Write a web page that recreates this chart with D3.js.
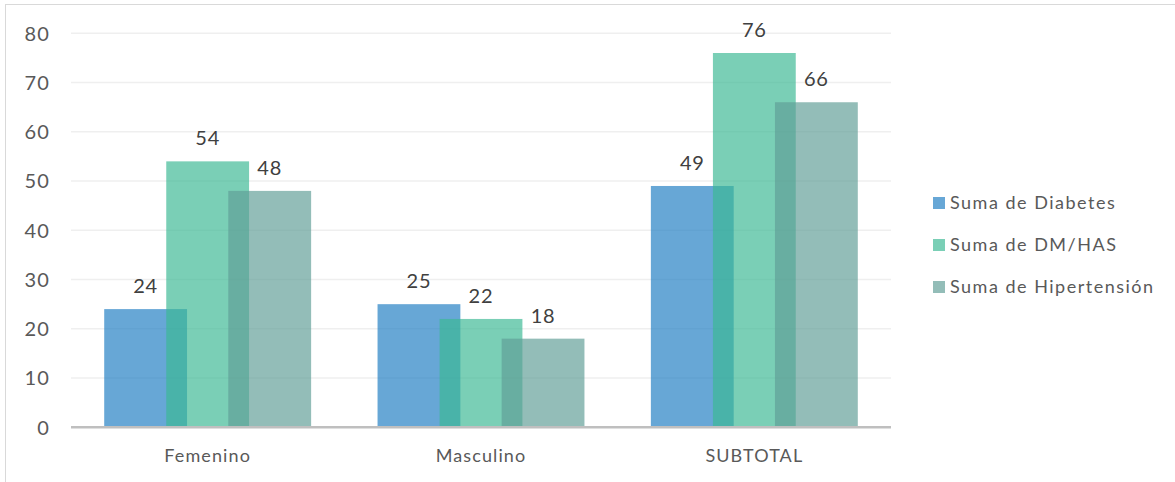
<!DOCTYPE html>
<html>
<head>
<meta charset="utf-8">
<script src="https://cdn.jsdelivr.net/npm/d3@7"></script>
<style>
  body { margin: 0; background: #fff; }
  text { font-family: Lato, "Open Sans", sans-serif; fill: #595959; }
</style>
</head>
<body>
<svg width="1175" height="482"></svg>
<script>
const categories = ["Femenino", "Masculino", "SUBTOTAL"];
const seriesNames = ["Suma de Diabetes", "Suma de DM/HAS", "Suma de Hipertensión"];
const diabetes = [24, 25, 49];
const dmHas = [54, 22, 76];
const hipertension = [48, 18, 66];
const yTicks = [0, 10, 20, 30, 40, 50, 60, 70, 80];

const seriesValues = [diabetes, dmHas, hipertension];
const colors = ["rgb(31,126,195)", "rgb(59,184,148)", "rgb(96,158,151)"];

const svg = d3.select("svg");

// chart frame
svg.append("rect")
  .attr("x", 5.5).attr("y", 4.5)
  .attr("width", 1180).attr("height", 490)
  .attr("fill", "none")
  .attr("stroke", "#d9d9d9");

const plotLeft = 71, plotRight = 891, plotTop = 33.3, plotBottom = 427.3;

const x = d3.scaleBand()
  .domain(categories)
  .range([plotLeft, plotRight]);

const y = d3.scaleLinear()
  .domain([0, 80])
  .range([plotBottom, plotTop]);

// gridlines
svg.append("g")
  .selectAll("line")
  .data(yTicks.slice(1))
  .enter().append("line")
  .attr("x1", plotLeft).attr("x2", plotRight)
  .attr("y1", d => y(d)).attr("y2", d => y(d))
  .attr("stroke", "#efefef")
  .attr("stroke-width", 1.5);

// y tick labels
svg.append("g")
  .selectAll("text")
  .data(yTicks)
  .enter().append("text")
  .attr("x", 50)
  .attr("y", d => y(d))
  .attr("dy", "0.36em")
  .attr("text-anchor", "end")
  .style("font-size", "20px")
  .style("letter-spacing", "1.2px")
  .text(d => d);

// bars: width and overlap like the original
const barW = x.bandwidth() * 0.303;
const step = x.bandwidth() * 0.227;
const groupW = barW + step * 2;

seriesValues.forEach((vals, s) => {
  const g = svg.append("g");
  g.selectAll("rect")
    .data(vals)
    .enter().append("rect")
    .attr("x", (d, i) => x(categories[i]) + (x.bandwidth() - groupW) / 2 + s * step)
    .attr("y", d => y(d))
    .attr("width", barW)
    .attr("height", d => y(0) - y(d))
    .attr("fill", colors[s])
    .attr("fill-opacity", 0.68);
});

// data labels
seriesValues.forEach((vals, s) => {
  svg.append("g")
    .selectAll("text")
    .data(vals)
    .enter().append("text")
    .attr("x", (d, i) => x(categories[i]) + (x.bandwidth() - groupW) / 2 + s * step + barW / 2)
    .attr("y", d => y(d) - 16)
    .attr("text-anchor", "middle")
    .style("font-size", "20px")
    .style("letter-spacing", "0.8px")
    .style("fill", "#404040")
    .text(d => d);
});

// baseline
svg.append("line")
  .attr("x1", plotLeft).attr("x2", plotRight)
  .attr("y1", y(0)).attr("y2", y(0))
  .attr("stroke", "#bfbfbf")
  .attr("stroke-width", 2.5);

// category labels
svg.append("g")
  .selectAll("text")
  .data(categories)
  .enter().append("text")
  .attr("x", d => x(d) + x.bandwidth() / 2)
  .attr("y", 462)
  .attr("text-anchor", "middle")
  .style("font-size", "18px")
  .style("letter-spacing", "1.1px")
  .text(d => d);

// legend
const legend = svg.append("g")
  .selectAll("g")
  .data(seriesNames)
  .enter().append("g")
  .attr("transform", (d, i) => "translate(933," + (203 + i * 42) + ")");

legend.append("rect")
  .attr("x", 0).attr("y", -6)
  .attr("width", 12).attr("height", 12)
  .attr("fill", (d, i) => colors[i])
  .attr("fill-opacity", 0.68);

legend.append("text")
  .attr("x", 17)
  .attr("dy", "0.36em")
  .style("font-size", "18px")
  .style("letter-spacing", "1.5px")
  .text(d => d);
</script>
</body>
</html>
